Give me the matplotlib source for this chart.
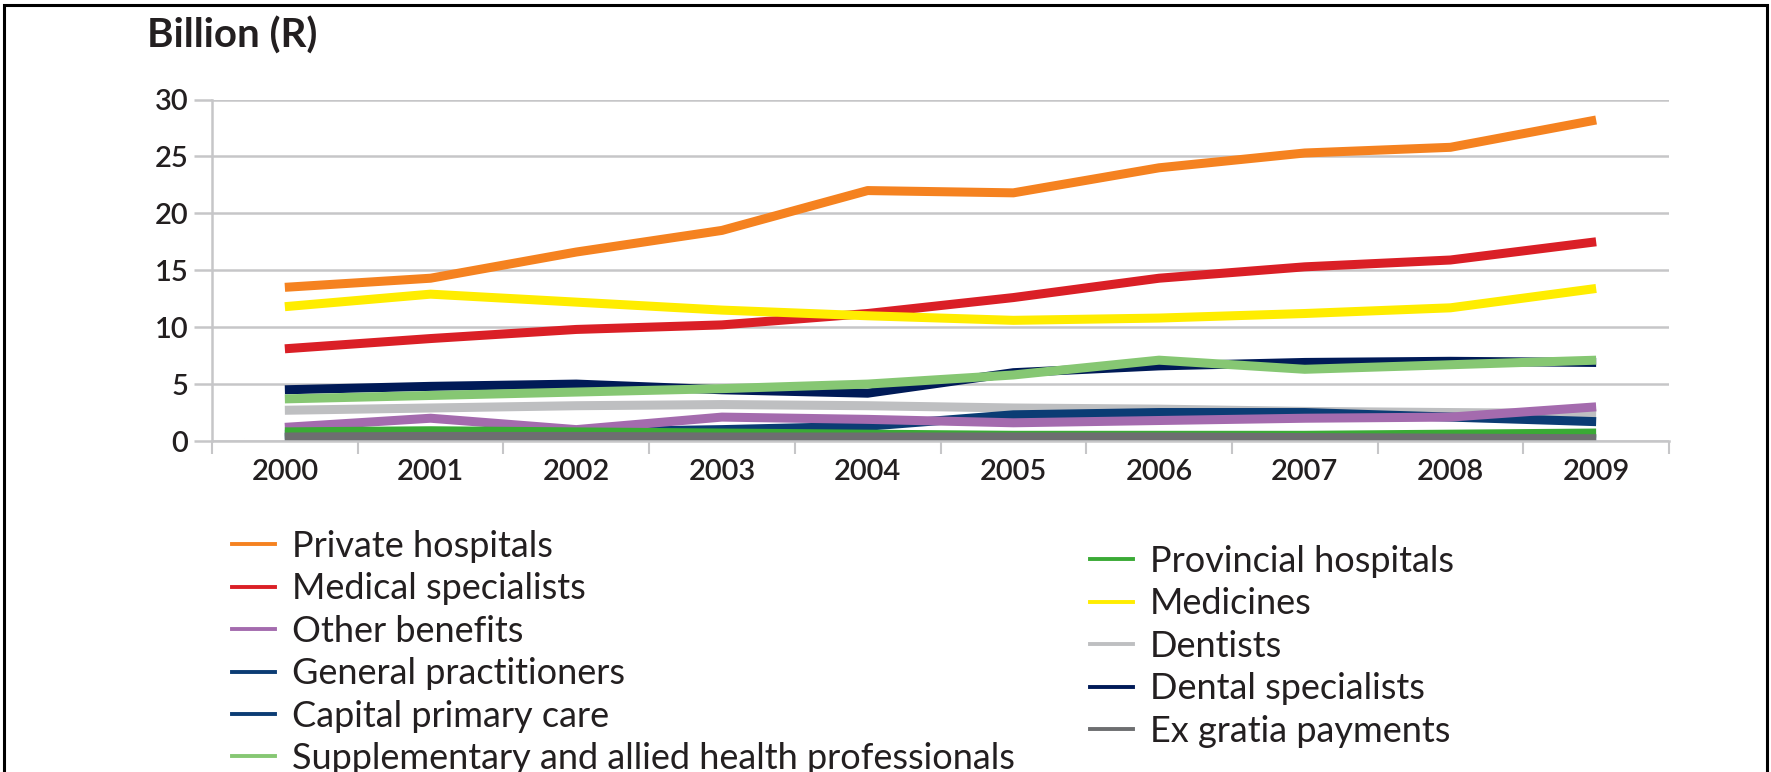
import matplotlib.pyplot as plt
from matplotlib.lines import Line2D
from matplotlib.patches import Rectangle

plt.rcParams['font.family'] = ['Lato', 'DejaVu Sans']

# data (billion rand)
years = ['2000', '2001', '2002', '2003', '2004', '2005', '2006', '2007', '2008', '2009']

private_hospitals = [13.5, 14.3, 16.6, 18.5, 22.0, 21.8, 24.0, 25.3, 25.8, 28.2]
medical_specialists = [8.1, 9.0, 9.8, 10.2, 11.2, 12.6, 14.3, 15.3, 15.9, 17.5]
other_benefits = [1.2, 2.0, 1.0, 2.1, 1.9, 1.6, 1.8, 2.0, 2.1, 3.0]
general_practitioners = [0.6, 0.7, 0.8, 1.0, 1.3, 2.3, 2.5, 2.5, 2.1, 1.7]
capital_primary_care = [0.3, 0.3, 0.3, 0.3, 0.3, 0.3, 0.3, 0.3, 0.2, 0.2]
supplementary = [3.7, 4.0, 4.3, 4.6, 5.0, 5.8, 7.1, 6.3, 6.7, 7.1]
provincial_hospitals = [0.8, 0.9, 0.8, 0.7, 0.6, 0.5, 0.5, 0.5, 0.6, 0.7]
medicines = [11.8, 12.9, 12.2, 11.5, 11.0, 10.6, 10.8, 11.2, 11.7, 13.4]
dentists = [2.7, 2.9, 3.1, 3.2, 3.1, 2.9, 2.8, 2.6, 2.5, 2.4]
dental_specialists = [4.5, 4.8, 5.0, 4.5, 4.2, 6.0, 6.6, 6.9, 7.0, 6.9]
ex_gratia = [0.35, 0.4, 0.4, 0.35, 0.35, 0.35, 0.35, 0.3, 0.25, 0.2]

c_orange = '#F58220'
c_red = '#DA1F26'
c_purple = '#A46BAE'
c_gp = '#0B3C74'
c_green_light = '#86C773'
c_green = '#3AAA35'
c_yellow = '#FFED00'
c_grey_light = '#BEBFC1'
c_navy = '#001A57'
c_grey_dark = '#6D6E70'
txt = '#231F20'

fig = plt.figure(figsize=(17.71, 7.72), dpi=100)
ax = fig.add_axes([212 / 1771, 1 - 441 / 772, (1669 - 212) / 1771, (441 - 99.5) / 772])

x = list(range(len(years)))
lw = 6.5
# drawing order: small series at the back
ax.plot(x, dentists, color=c_grey_light, lw=lw, solid_capstyle='butt')
ax.plot(x, capital_primary_care, color=c_gp, lw=lw, solid_capstyle='butt')
ax.plot(x, general_practitioners, color=c_gp, lw=lw, solid_capstyle='butt')
ax.plot(x, other_benefits, color=c_purple, lw=lw, solid_capstyle='butt')
ax.plot(x, provincial_hospitals, color=c_green, lw=lw, solid_capstyle='butt')
ax.plot(x, ex_gratia, color=c_grey_dark, lw=lw, solid_capstyle='butt')
ax.plot(x, dental_specialists, color=c_navy, lw=lw, solid_capstyle='butt')
ax.plot(x, supplementary, color=c_green_light, lw=lw, solid_capstyle='butt')
ax.plot(x, medical_specialists, color=c_red, lw=lw, solid_capstyle='butt')
ax.plot(x, medicines, color=c_yellow, lw=lw, solid_capstyle='butt')
ax.plot(x, private_hospitals, color=c_orange, lw=lw, solid_capstyle='butt')

ax.set_xlim(-0.5, len(years) - 0.5)
ax.set_ylim(0, 30)
ax.set_yticks(range(0, 31, 5))
ax.set_xticks(x)
ax.set_xticklabels(years)
ax.set_xticks([i - 0.5 for i in range(len(years) + 1)], minor=True)

gc = '#C6C6C8'
ax.grid(True, axis='y', color=gc, lw=1.8)
ax.set_axisbelow(True)
for s in ['top', 'right']:
    ax.spines[s].set_visible(False)
for s in ['left', 'bottom']:
    ax.spines[s].set_color(gc)
    ax.spines[s].set_linewidth(1.8)

ax.tick_params(axis='y', length=13, width=1.8, color=gc, labelsize=21, labelcolor=txt, pad=4)
ax.tick_params(axis='x', which='major', length=0, labelsize=21, labelcolor=txt, pad=13)
ax.tick_params(axis='x', which='minor', length=9, width=1.5, color=gc)
for lab in ax.get_xticklabels() + ax.get_yticklabels():
    lab.set_fontweight('semibold')

fig.text(147 / 1771, 1 - 36 / 772, 'Billion (R)', fontsize=29, fontweight='bold',
         color=txt, va='center', ha='left')

# legends, two columns
left_items = [('Private hospitals', c_orange), ('Medical specialists', c_red),
              ('Other benefits', c_purple), ('General practitioners', c_gp),
              ('Capital primary care', c_gp),
              ('Supplementary and allied health professionals', c_green_light)]
right_items = [('Provincial hospitals', c_green), ('Medicines', c_yellow),
               ('Dentists', c_grey_light), ('Dental specialists', c_navy),
               ('Ex gratia payments', c_grey_dark)]

def add_legend(items, x0, y0):
    handles = [Line2D([0], [0], color=c, lw=2.8) for _, c in items]
    labels = [t for t, _ in items]
    leg = fig.legend(handles, labels, loc='upper left', bbox_to_anchor=(x0, y0),
                     frameon=False, fontsize=26, handlelength=1.2, handletextpad=0.45,
                     labelspacing=0.26, borderpad=0, borderaxespad=0)
    for t in leg.get_texts():
        t.set_color(txt)
    return leg

add_legend(left_items, 232 / 1771, 1 - 530 / 772)
add_legend(right_items, 1090 / 1771, 1 - 545 / 772)

# outer frame
fig.patches.append(Rectangle((4 / 1771, -0.05), (1767 - 4) / 1771, 1.05 - 5 / 772,
                             transform=fig.transFigure, fill=False, ec='black', lw=2.2))

fig.savefig('out.png', dpi=100)
